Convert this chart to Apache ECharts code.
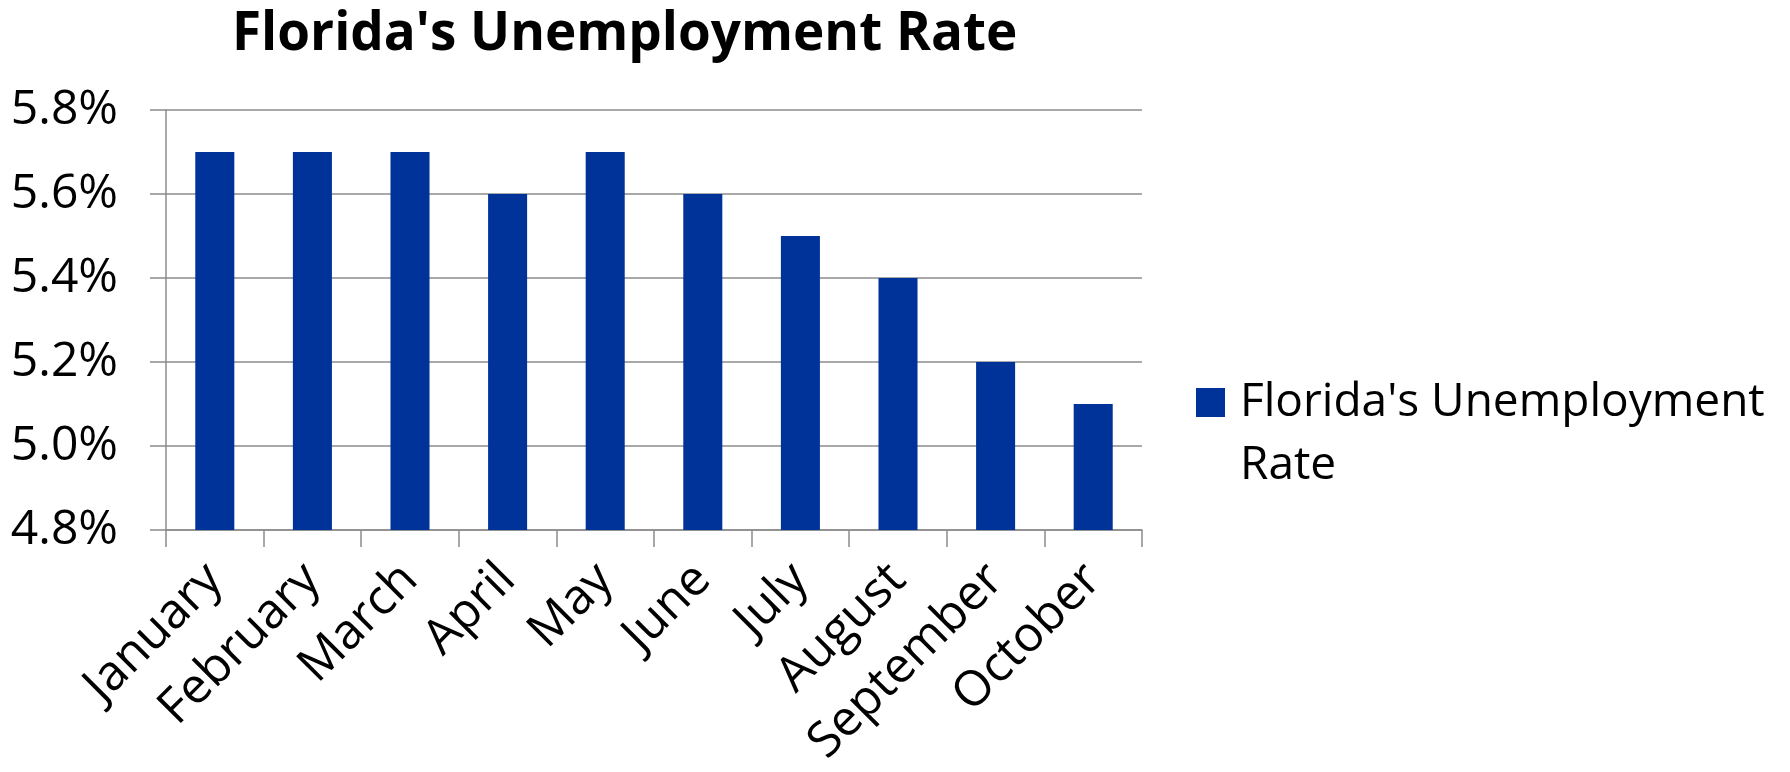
<!DOCTYPE html>
<html>
<head>
<meta charset="utf-8">
<title>Florida's Unemployment Rate</title>
<script src="https://cdn.jsdelivr.net/npm/echarts@6/dist/echarts.min.js"></script>
<style>
  html, body { margin: 0; padding: 0; background: #fff; }
  #chart { width: 1790px; height: 772px; }
</style>
</head>
<body>
<div id="chart"></div>
<script>
// 数据
const months = ["January", "February", "March", "April", "May", "June", "July", "August", "September", "October"];
const rates = [5.7, 5.7, 5.7, 5.6, 5.7, 5.6, 5.5, 5.4, 5.2, 5.1];
const seriesName = "Florida's Unemployment Rate";

const FONT = "Open Sans";
const GRID_COLOR = "#8c8c8c";

let myChart = echarts.init(document.getElementById("chart"));

myChart.setOption({
  backgroundColor: "#fff",
  animation: false,
  title: {
    text: seriesName,
    left: 232,
    top: 8,
    padding: 0,
    textStyle: { fontFamily: FONT, fontSize: 53, fontWeight: "bold", color: "#000" }
  },
  legend: {
    left: 1196,
    top: 308,
    padding: 0,
    orient: "vertical",
    itemWidth: 29,
    itemHeight: 29,
    icon: "rect",
    // 前面加一个空行，让图标和第一行文字对齐
    formatter: () => "\nFlorida's Unemployment\nRate",
    textStyle: {
      fontFamily: FONT, fontSize: 46, color: "#000", lineHeight: 63,
      padding: [0, 0, 0, 10]
    }
  },
  grid: { left: 166, right: 648, top: 110, bottom: 242, containLabel: false },
  xAxis: {
    type: "category",
    data: months,
    axisLine: { lineStyle: { color: GRID_COLOR, width: 1.5 } },
    axisTick: { show: true, length: 17, lineStyle: { color: GRID_COLOR, width: 1.5 } },
    axisLabel: { rotate: 45, margin: 42, interval: 0, fontFamily: FONT, fontSize: 49, color: "#000" }
  },
  yAxis: {
    type: "value",
    min: 4.8,
    max: 5.8,
    interval: 0.2,
    axisLine: { show: true, lineStyle: { color: GRID_COLOR, width: 1.5 } },
    axisTick: { show: true, length: 16, lineStyle: { color: GRID_COLOR, width: 1.5 } },
    splitLine: { lineStyle: { color: GRID_COLOR, width: 1.5 } },
    axisLabel: {
      margin: 48, fontFamily: FONT, fontSize: 48, color: "#000",
      formatter: (v) => v.toFixed(1) + "%"
    }
  },
  series: [{
    name: seriesName,
    type: "bar",
    data: rates,
    barWidth: "40%",
    itemStyle: { color: "#003399" }
  }]
});
</script>
</body>
</html>
